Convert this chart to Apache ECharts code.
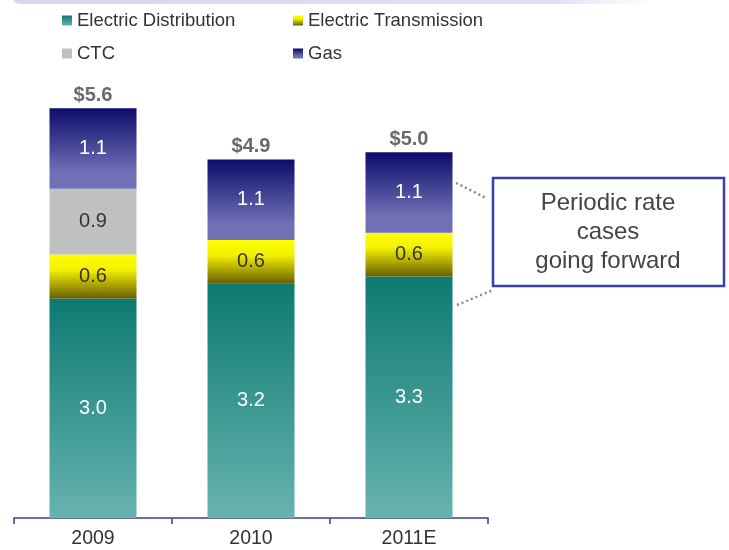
<!DOCTYPE html>
<html>
<head>
<meta charset="utf-8">
<style>
  html, body { margin: 0; padding: 0; background: #fff; }
  #chart { width: 729px; height: 550px; }
</style>
<script src="https://cdn.jsdelivr.net/npm/echarts@6/dist/echarts.min.js"></script>
</head>
<body>
<div id="chart"></div>
<script>
var years = ['2009', '2010', '2011E'];
var distribution = [3.0, 3.2, 3.3];
var transmission = [0.6, 0.6, 0.6];
var ctc = [0.9, 0, 0];
var gas = [1.1, 1.1, 1.1];
var totals = [5.6, 4.9, 5.0];

// vertical gradient, top colour first
function grad(top, bottom, stop) {
  return new echarts.graphic.LinearGradient(0, 0, 0, 1, [
    { offset: 0, color: top },
    { offset: stop || 1, color: bottom },
    { offset: 1, color: bottom }
  ]);
}

var FONT = 'Liberation Sans, Arial, sans-serif';

function segLabel(color) {
  return {
    show: true,
    position: 'inside',
    color: color,
    fontSize: 20,
    fontFamily: FONT,
    formatter: function (p) {
      return p.value ? p.value.toFixed(1) : '';
    }
  };
}

var legendText = { fontSize: 18.5, color: '#333', fontFamily: FONT };

var chart = echarts.init(document.getElementById('chart'));

chart.setOption({
  animation: false,
  textStyle: { fontFamily: FONT },
  legend: [{
    orient: 'vertical',
    left: 57,
    top: 6,
    itemGap: 14,
    itemWidth: 10,
    itemHeight: 10,
    icon: 'rect',
    textStyle: legendText,
    data: ['Electric Distribution', 'CTC']
  }, {
    orient: 'vertical',
    left: 288,
    top: 6,
    itemGap: 14,
    itemWidth: 10,
    itemHeight: 10,
    icon: 'rect',
    textStyle: legendText,
    data: ['Electric Transmission', 'Gas']
  }],
  grid: {
    left: 14,
    right: 241,
    top: 79,
    bottom: 32
  },
  xAxis: {
    type: 'category',
    data: years,
    axisLine: { lineStyle: { color: '#3b3b8c', width: 1.5 } },
    axisTick: { show: true, alignWithLabel: false, length: 6, lineStyle: { color: '#3b3b8c', width: 1.5 } },
    axisLabel: { color: '#333', fontSize: 19.5, margin: 11, fontFamily: FONT }
  },
  yAxis: {
    type: 'value',
    min: 0,
    max: 6,
    show: false,
    splitLine: { show: false }
  },
  series: [{
    name: 'Electric Distribution',
    type: 'bar',
    stack: 'rev',
    barWidth: 87,
    data: distribution,
    itemStyle: { color: grad('#0d7a72', '#67b3af') },
    label: segLabel('#fff')
  }, {
    name: 'Electric Transmission',
    type: 'bar',
    stack: 'rev',
    data: transmission,
    itemStyle: {
      color: new echarts.graphic.LinearGradient(0, 0, 0, 1, [
        { offset: 0, color: '#ffff00' },
        { offset: 0.35, color: '#f4f000' },
        { offset: 1, color: '#665e00' }
      ])
    },
    label: segLabel('#333')
  }, {
    name: 'CTC',
    type: 'bar',
    stack: 'rev',
    data: ctc,
    itemStyle: { color: '#c0c0c0' },
    label: segLabel('#333')
  }, {
    name: 'Gas',
    type: 'bar',
    stack: 'rev',
    data: gas,
    itemStyle: { color: grad('#0c0c6c', '#7070b6', 0.8) },
    label: segLabel('#fff')
  }, {
    name: 'Total',
    type: 'scatter',
    data: totals,
    symbolSize: 1,
    itemStyle: { color: 'rgba(0,0,0,0)' },
    silent: true,
    label: {
      show: true,
      position: 'top',
      distance: 2,
      color: '#444',
      fontSize: 20,
      fontWeight: 'bold',
      fontFamily: FONT,
      formatter: function (p) { return '$' + p.value.toFixed(1); }
    }
  }],
  graphic: [{
    type: 'rect',
    shape: { x: 12, y: -6, width: 640, height: 10, r: [0, 0, 0, 8] },
    style: {
      fill: new echarts.graphic.LinearGradient(0, 0, 1, 0, [
        { offset: 0, color: '#d3d8ee' },
        { offset: 0.85, color: '#dfe2f3' },
        { offset: 1, color: '#ffffff' }
      ])
    }
  }, {
    type: 'line',
    shape: { x1: 456, y1: 183, x2: 486, y2: 198 },
    style: { stroke: '#8a8a8a', lineWidth: 2.5, lineDash: [2, 3] }
  }, {
    type: 'line',
    shape: { x1: 457, y1: 305, x2: 493, y2: 290 },
    style: { stroke: '#8a8a8a', lineWidth: 2.5, lineDash: [2, 3] }
  }, {
    type: 'rect',
    shape: { x: 493, y: 178, width: 231, height: 108 },
    style: { fill: '#fff', stroke: '#3c3caa', lineWidth: 2.5 }
  }, {
    type: 'text',
    x: 608,
    y: 232,
    style: {
      text: 'Periodic rate\ncases\ngoing forward',
      fill: '#444',
      font: '24px ' + FONT,
      align: 'center',
      verticalAlign: 'middle',
      lineHeight: 29
    }
  }]
});
</script>
</body>
</html>
